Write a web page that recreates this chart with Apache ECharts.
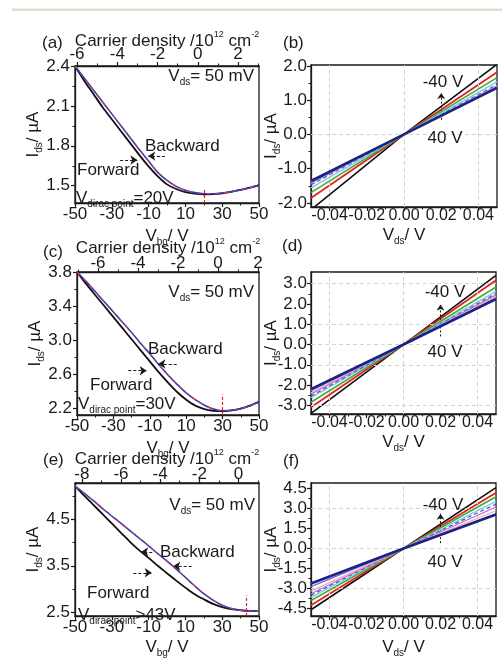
<!DOCTYPE html>
<html>
<head>
<meta charset="utf-8">
<script src="https://cdn.jsdelivr.net/npm/echarts@6/dist/echarts.min.js"></script>
<style>
  html, body { margin: 0; padding: 0; background: #ffffff; }
  #chart { width: 502px; height: 659px; }
</style>
</head>
<body>
<div id="chart"></div>
<script>
// ---------- transfer curves: I_ds (µA) vs back-gate voltage (V) ----------
const vbg = [-50, -45, -40, -35, -30, -25, -20, -15, -10, -5, 0, 5, 10, 15, 20, 25, 30, 35, 40, 45, 50];

const fwdA = [2.40, 2.29, 2.19, 2.09, 2.00, 1.91, 1.82, 1.73, 1.645, 1.57, 1.51, 1.475, 1.452, 1.44, 1.435, 1.437, 1.443, 1.455, 1.468, 1.485, 1.505];
const bwdA = [2.40, 2.31, 2.22, 2.13, 2.04, 1.95, 1.86, 1.77, 1.685, 1.60, 1.54, 1.495, 1.465, 1.448, 1.44, 1.44, 1.445, 1.455, 1.468, 1.485, 1.505];

const fwdC = [3.80, 3.66, 3.53, 3.40, 3.27, 3.14, 3.01, 2.88, 2.75, 2.62, 2.50, 2.39, 2.30, 2.23, 2.19, 2.17, 2.165, 2.175, 2.195, 2.23, 2.275];
const bwdC = [3.80, 3.69, 3.57, 3.45, 3.33, 3.21, 3.09, 2.96, 2.84, 2.71, 2.59, 2.48, 2.38, 2.30, 2.235, 2.19, 2.17, 2.175, 2.195, 2.23, 2.275];

const fwdE = [5.22, 5.01, 4.81, 4.61, 4.41, 4.21, 4.01, 3.83, 3.67, 3.50, 3.34, 3.18, 3.03, 2.89, 2.78, 2.68, 2.61, 2.57, 2.545, 2.53, 2.525];
const bwdE = [5.22, 5.06, 4.90, 4.73, 4.57, 4.41, 4.25, 4.09, 3.93, 3.76, 3.60, 3.43, 3.25, 3.07, 2.90, 2.76, 2.65, 2.58, 2.54, 2.525, 2.525];

const diracA = 20, diracC = 30, diracE = 43;

// ---------- output curves: I_ds (µA) vs V_ds (V), back gate stepped -40 V ... 40 V ----------
const vds = [-0.05, 0, 0.05];
const gateSteps = ['-40 V', '-30 V', '-20 V', '-10 V', '0 V', '10 V', '20 V', '30 V', '40 V'];
const ivB = [[-2.20, 0, 2.05], [-1.86, 0, 1.82], [-1.70, 0, 1.66], [-1.56, 0, 1.54], [-1.47, 0, 1.46],
             [-1.43, 0, 1.42], [-1.41, 0, 1.40], [-1.39, 0, 1.38], [-1.36, 0, 1.36]];
const ivD = [[-3.40, 0, 3.41], [-3.10, 0, 3.17], [-2.85, 0, 2.84], [-2.62, 0, 2.62], [-2.55, 0, 2.52],
             [-2.45, 0, 2.45], [-2.38, 0, 2.38], [-2.28, 0, 2.30], [-2.20, 0, 2.24]];
const ivF = [[-4.58, 0, 4.56], [-4.24, 0, 4.17], [-3.89, 0, 3.87], [-3.66, 0, 3.52], [-3.50, 0, 3.33],
             [-3.38, 0, 3.10], [-3.19, 0, 2.82], [-2.85, 0, 2.59], [-2.62, 0, 2.55]];

// ---------- tick values ----------
const ticksBg = [-50, -30, -10, 10, 30, 50];
const minorBg = [-40, -20, 0, 20, 40];
const ticksVds = [-0.04, -0.02, 0, 0.02, 0.04];
const minorVds = [-0.03, -0.01, 0.01, 0.03];
const ticksIA = [1.5, 1.8, 2.1, 2.4], minorIA = [1.65, 1.95, 2.25];
const ticksIC = [2.2, 2.6, 3.0, 3.4, 3.8], minorIC = [2.4, 2.8, 3.2, 3.6];
const ticksIE = [2.5, 3.5, 4.5], minorIE = [3.0, 4.0, 5.0];
const ticksIB = [-2, -1, 0, 1, 2], minorIB = [-1.5, -0.5, 0.5, 1.5];
const ticksID = [-3, -2, -1, 0, 1, 2, 3], minorID = [-2.5, -1.5, -0.5, 0.5, 1.5, 2.5];
const ticksIF = [-4.5, -3, -1.5, 0, 1.5, 3, 4.5], minorIF = [-3.75, -2.25, -0.75, 0.75, 2.25, 3.75];
const ticksNA = [-6, -4, -2, 0, 2], minorNA = [-5, -3, -1, 1, 3];
const ticksNC = [-6, -4, -2, 0, 2], minorNC = [-7, -5, -3, -1, 1];
const ticksNE = [-8, -6, -4, -2, 0], minorNE = [-7, -5, -3, -1, 1];

// ---------- styling ----------
const INK = '#1a1a1a';
const FONT = '"Liberation Sans", Arial, Helvetica, sans-serif';
const FS = 17;
const lineColors = ['#111111', '#e3211d', '#3fae3b', '#7ccbe3', '#3a56d4', '#c766c9', '#e6aab4', '#7a6ad2', '#1b2382'];
const lineWidths = [1.6, 1.8, 1.6, 1.4, 1.2, 1.2, 1.2, 1.4, 2.6];
const lineTypes = ['solid', 'solid', 'solid', 'solid', [4, 3], 'solid', 'solid', 'solid', 'solid'];

const richName = {
  v: { fontSize: FS, fontFamily: FONT, color: INK, lineHeight: 22 },
  s: { fontSize: 10, fontFamily: FONT, color: INK, lineHeight: 9, verticalAlign: 'bottom' },
  p: { fontSize: 9, fontFamily: FONT, color: INK, lineHeight: 9, verticalAlign: 'top' }
};
const richText = {
  v: { fontSize: FS, fontFamily: FONT, fill: INK, lineHeight: 22 },
  s: { fontSize: 10, fontFamily: FONT, fill: INK, lineHeight: 9, verticalAlign: 'bottom' }
};

const grids = [
  { left: 75, top: 66, width: 184, height: 137 },   // (a)
  { left: 311, top: 65, width: 186, height: 142 },  // (b)
  { left: 77, top: 272, width: 182, height: 143 },  // (c)
  { left: 311, top: 272, width: 185, height: 142 }, // (d)
  { left: 75, top: 483, width: 184, height: 144 },  // (e)
  { left: 311, top: 483, width: 185, height: 144 }  // (f)
].map(g => Object.assign({ show: true, borderColor: INK, borderWidth: 1.3, backgroundColor: 'transparent' }, g));

const xAxis = [], yAxis = [], series = [], graphic = [];

function fmt(d) { return v => Number(v).toFixed(d); }

// main axis (labels + major ticks) plus an overlaid axis for minor ticks
function addAxes(list, grid, pos, min, max, major, minor, dec, margin, name, nameGap, labelSize) {
  const main = {
    type: 'value', gridIndex: grid, position: pos, min: min, max: max,
    axisLine: { show: true, onZero: false, lineStyle: { color: INK, width: 1.3 } },
    axisTick: { show: true, inside: false, length: 4, customValues: major, lineStyle: { color: INK, width: 1.2 } },
    axisLabel: {
      customValues: major, formatter: fmt(dec), color: INK, fontSize: labelSize || FS, fontFamily: FONT,
      margin: margin, showMinLabel: true, showMaxLabel: true, hideOverlap: false
    },
    splitLine: { show: false }
  };
  if (name) {
    main.name = name;
    main.nameLocation = 'middle';
    main.nameGap = nameGap;
    main.nameMoveOverlap = false;
    main.nameTextStyle = { rich: richName };
    if (pos === 'left') main.nameRotate = 90;
  }
  list.push(main);
  const idx = list.length - 1;
  list.push({
    type: 'value', gridIndex: grid, position: pos, min: min, max: max,
    axisLine: { show: false, onZero: false },
    axisTick: { show: true, inside: false, length: 2.5, customValues: minor, lineStyle: { color: INK, width: 1 } },
    axisLabel: { show: false },
    splitLine: { show: false }
  });
  return idx;
}

const yName = '{v|I}{s|ds}{v|/ µA}';
const densityName = '{v|Carrier density /10}{p|12}{v| cm}{p|-2}';

const arrowStyle = { color: INK, width: 1, type: [3, 2] };
const diracStyle = { color: '#e02424', width: 1.2, type: [3, 2] };

function transferPanel(grid, fwd, bwd, yMin, yMax, yTicks, yMinor, nRange, nTicks, nMinor, nMargin, nGap, dirac, diracTop, arrows, xNameGap) {
  const xi = addAxes(xAxis, grid, 'bottom', -50, 50, ticksBg, minorBg, 0, 3, '{v|V}{s|bg}{v|/ V}', xNameGap);
  addAxes(xAxis, grid, 'top', nRange[0], nRange[1], nTicks, nMinor, 0, nMargin, densityName, nGap);
  const yi = addAxes(yAxis, grid, 'left', yMin, yMax, yTicks, yMinor, 1, 5, yName, 31);

  series.push({
    type: 'line', name: 'Forward', xAxisIndex: xi, yAxisIndex: yi,
    data: vbg.map((v, i) => [v, fwd[i]]), smooth: 0.3, showSymbol: false,
    lineStyle: { color: '#111111', width: 1.8 }, z: 3,
    markLine: {
      silent: true, animation: false, label: { show: false },
      symbol: ['none', 'arrow'], symbolSize: 7,
      lineStyle: arrowStyle,
      data: arrows.map(a => [{ coord: [a[0], a[2]] }, { coord: [a[1], a[2]] }])
    }
  });
  series.push({
    type: 'line', name: 'Backward', xAxisIndex: xi, yAxisIndex: yi,
    data: vbg.map((v, i) => [v, bwd[i]]), smooth: 0.3, showSymbol: false,
    lineStyle: { color: '#3040b4', width: 1.6 }, z: 4
  });
  series.push({
    type: 'line', name: 'Backward', xAxisIndex: xi, yAxisIndex: yi,
    data: vbg.map((v, i) => [v, bwd[i]]), smooth: 0.3, showSymbol: false,
    lineStyle: { color: '#e2305a', width: 1.1, type: [4, 5] }, z: 5,
    markLine: {
      silent: true, animation: false, label: { show: false }, symbol: ['none', 'none'],
      lineStyle: diracStyle,
      data: [[{ coord: [dirac, yMin] }, { coord: [dirac, diracTop] }]]
    }
  });
}

function outputPanel(grid, lines, yMin, yMax, yTicks, yMinor, gridY, arrow, xNameGap) {
  const xi = addAxes(xAxis, grid, 'bottom', -0.05, 0.05, ticksVds, minorVds, 2, 1, '{v|V}{s|ds}{v|/ V}', xNameGap, 16);
  const yi = addAxes(yAxis, grid, 'left', yMin, yMax, yTicks, yMinor, 1, 4, yName, 29);
  lines.forEach((vals, k) => {
    const s = {
      type: 'line', name: gateSteps[k], xAxisIndex: xi, yAxisIndex: yi,
      data: vds.map((v, i) => [v, vals[i]]), showSymbol: false,
      lineStyle: { color: lineColors[k], width: lineWidths[k], type: lineTypes[k] },
      z: 3 + k
    };
    if (k === 0) {
      const guide = { lineStyle: { color: '#d2d2d2', width: 1, type: [4, 3] } };
      s.markLine = {
        silent: true, animation: false, label: { show: false }, symbol: ['none', 'none'],
        data: [
          ...[-0.04, 0, 0.04].map(x => Object.assign({ xAxis: x }, guide)),
          ...gridY.map(y => Object.assign({ yAxis: y }, guide)),
          [
            { coord: [0.02, arrow[0]], symbol: 'none', lineStyle: { color: INK, width: 1, type: [2, 2] } },
            { coord: [0.02, arrow[1]], symbol: 'arrow', symbolSize: 6 }
          ]
        ]
      };
    }
    series.push(s);
  });
}

transferPanel(0, fwdA, bwdA, 1.37, 2.40, ticksIA, minorIA, [-6.1, 3.04], ticksNA, minorNA, 3, 14, diracA, 1.48,
  [[-25.5, -16.1, 1.693], [-1.1, -10.2, 1.723]], 22);
outputPanel(1, ivB, -2.12, 2.03, ticksIB, minorIB, [0], [0.43, 1.21], 17);
transferPanel(2, fwdC, bwdC, 2.12, 3.80, ticksIC, minorIC, [-7.05, 2.05], ticksNC, minorNC, 0, 13, diracC, 2.36,
  [[-21.8, -11.7, 2.64], [4.8, -5.3, 2.72]], 22);
outputPanel(3, ivD, -3.43, 3.58, ticksID, minorID, [-3, -1, 0, 1, 3], [0.4, 1.98], 17);
transferPanel(4, fwdE, bwdE, 2.42, 5.28, ticksIE, minorIE, [-8.35, 1.05], ticksNE, minorNE, 0, 13, diracE, 2.86,
  [[-18.3, -8.3, 3.35], [13.4, 3.4, 3.49], [-8.0, -14.0, 3.80]], 20);
outputPanel(5, ivF, -5.05, 4.90, ticksIF, minorIF, [-3, 0, 3], [0.4, 2.6], 20);

// ---------- text annotations ----------
function text(x, y, str, align) {
  graphic.push({
    type: 'text', x: x, y: y, silent: true, z: 20,
    style: {
      text: str, fill: INK, fontSize: FS, fontFamily: FONT, rich: richText,
      textAlign: align || 'left', align: align || 'left',
      textVerticalAlign: 'middle', verticalAlign: 'middle'
    }
  });
}

// thin rule along the top of the page
graphic.push({ type: 'rect', silent: true, shape: { x: 12, y: 8.5, width: 490, height: 2.5 }, style: { fill: '#e3dbcc' } });

text(42, 43, '(a)'); text(283, 43, '(b)');
text(43, 252, '(c)'); text(282, 246, '(d)');
text(43, 460, '(e)'); text(283, 461, '(f)');

const vdsNote = '{v|V}{s|ds}{v|= 50 mV}';
text(254, 76, vdsNote, 'right'); text(254, 292, vdsNote, 'right'); text(255, 505, vdsNote, 'right');

text(145, 146, 'Backward'); text(77, 170, 'Forward');
text(148, 349, 'Backward'); text(90, 385, 'Forward');
text(160, 552, 'Backward'); text(87, 593, 'Forward');

text(76, 198, '{v|V}{s|dirac point}{v|=' + diracA + 'V}');
text(78, 404, '{v|V}{s|dirac point}{v|=' + diracC + 'V}');
text(78, 615, '{v|V}{s|dirac point}{v|>' + diracE + 'V}');

text(443, 82, gateSteps[0], 'center'); text(445, 138, gateSteps[8], 'center');
text(445, 292, gateSteps[0], 'center'); text(445, 352, gateSteps[8], 'center');
text(443, 505, gateSteps[0], 'center'); text(445, 562, gateSteps[8], 'center');

const chart = echarts.init(document.getElementById('chart'), null, { renderer: 'canvas' });
chart.setOption({
  animation: false,
  backgroundColor: '#ffffff',
  textStyle: { fontFamily: FONT },
  grid: grids,
  xAxis: xAxis,
  yAxis: yAxis,
  series: series,
  graphic: graphic
});
</script>
</body>
</html>
